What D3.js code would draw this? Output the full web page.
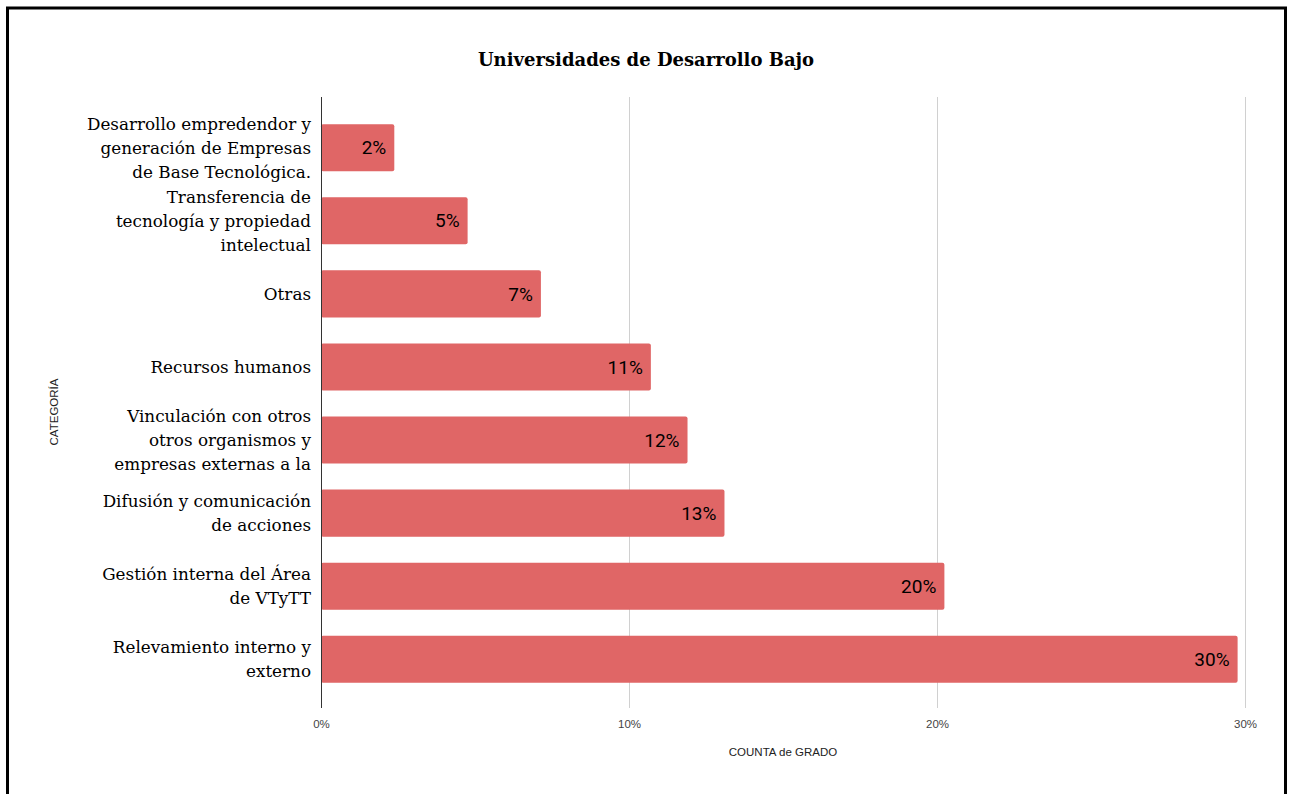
<!DOCTYPE html>
<html lang="es">
<head>
<meta charset="UTF-8">
<title>Universidades de Desarrollo Bajo</title>
<style>
  body { margin: 0; background: #fff; }
  svg { display: block; }
</style>
<script src="https://d3js.org/d3.v7.min.js"></script>
</head>
<body>
<div id="chart"></div>
<script>
  const categories = [
    ["Desarrollo empredendor y", "generación de Empresas", "de Base Tecnológica."],
    ["Transferencia de", "tecnología y propiedad", "intelectual"],
    ["Otras"],
    ["Recursos humanos"],
    ["Vinculación con otros", "otros organismos y", "empresas externas a la"],
    ["Difusión y comunicación", "de acciones"],
    ["Gestión interna del Área", "de VTyTT"],
    ["Relevamiento interno y", "externo"]
  ];
  const values = [2.38, 4.76, 7.14, 10.71, 11.9, 13.1, 20.24, 29.76];
  const xTicks = [0, 10, 20, 30];

  const W = 1292, H = 794;
  const svg = d3.select('#chart').append('svg').attr('width', W).attr('height', H);

  // outer frame
  svg.append('rect').attr('x', 7.5).attr('y', 8).attr('width', 1278).attr('height', 800)
    .attr('fill', 'none').attr('stroke', '#000').attr('stroke-width', 3);

  svg.append('text').attr('x', 646).attr('y', 66).attr('text-anchor', 'middle')
    .attr('font-family', 'DejaVu Serif').attr('font-weight', 'bold').attr('font-size', 18)
    .text('Universidades de Desarrollo Bajo');

  const x = d3.scaleLinear().domain([0, 30]).range([321, 1245]);
  const idx = d3.range(categories.length);
  const y = d3.scaleBand().domain(idx).range([111, 696]).paddingInner(0.355).paddingOuter(0.18);

  // grid
  svg.append('g').selectAll('line').data(xTicks.slice(1)).join('line')
    .attr('x1', d => x(d) + 0.5).attr('x2', d => x(d) + 0.5)
    .attr('y1', 97).attr('y2', 708).attr('stroke', '#d0d0d0');

  svg.append('g').selectAll('rect').data(values).join('rect')
    .attr('x', x(0)).attr('y', (d, i) => y(i))
    .attr('width', d => x(d) - x(0)).attr('height', y.bandwidth())
    .attr('rx', 2).attr('fill', '#e06666');

  // zero line
  svg.append('line').attr('x1', x(0) + 0.5).attr('x2', x(0) + 0.5)
    .attr('y1', 97).attr('y2', 708).attr('stroke', '#333');

  svg.append('g').selectAll('text').data(values).join('text')
    .attr('x', d => x(d) - 8).attr('y', (d, i) => y(i) + y.bandwidth() / 2)
    .attr('dy', '0.35em').attr('text-anchor', 'end')
    .attr('font-family', 'Roboto').attr('font-size', 19).attr('fill', '#000')
    .text(d => Math.round(d) + '%');

  // category labels
  const lab = svg.append('g').attr('font-family', 'DejaVu Serif').attr('font-size', 16.8)
    .attr('fill', '#000').attr('text-anchor', 'end');
  categories.forEach((lines, i) => {
    const cy = y(i) + y.bandwidth() / 2;
    lines.forEach((t, j) => {
      lab.append('text').attr('x', 311)
        .attr('y', cy + (j - (lines.length - 1) / 2) * 24)
        .attr('dy', '0.35em').text(t);
    });
  });

  const xAxis = d3.axisBottom(x).tickValues(xTicks).tickSize(0).tickFormat(d => d + '%');
  const ax = svg.append('g').attr('transform', 'translate(0,717)').call(xAxis);
  ax.select('.domain').remove();
  ax.selectAll('text').attr('font-family', 'Liberation Sans').attr('font-size', 11.5).attr('fill', '#444');

  svg.append('text').attr('x', 783).attr('y', 756).attr('text-anchor', 'middle')
    .attr('font-family', 'Liberation Sans').attr('font-size', 11.5).attr('fill', '#222')
    .text('COUNTA de GRADO');

  svg.append('text').attr('transform', 'translate(58,412) rotate(-90)').attr('text-anchor', 'middle')
    .attr('font-family', 'Liberation Sans').attr('font-size', 11.5).attr('fill', '#222')
    .text('CATEGORÍA');
</script>
</body>
</html>
